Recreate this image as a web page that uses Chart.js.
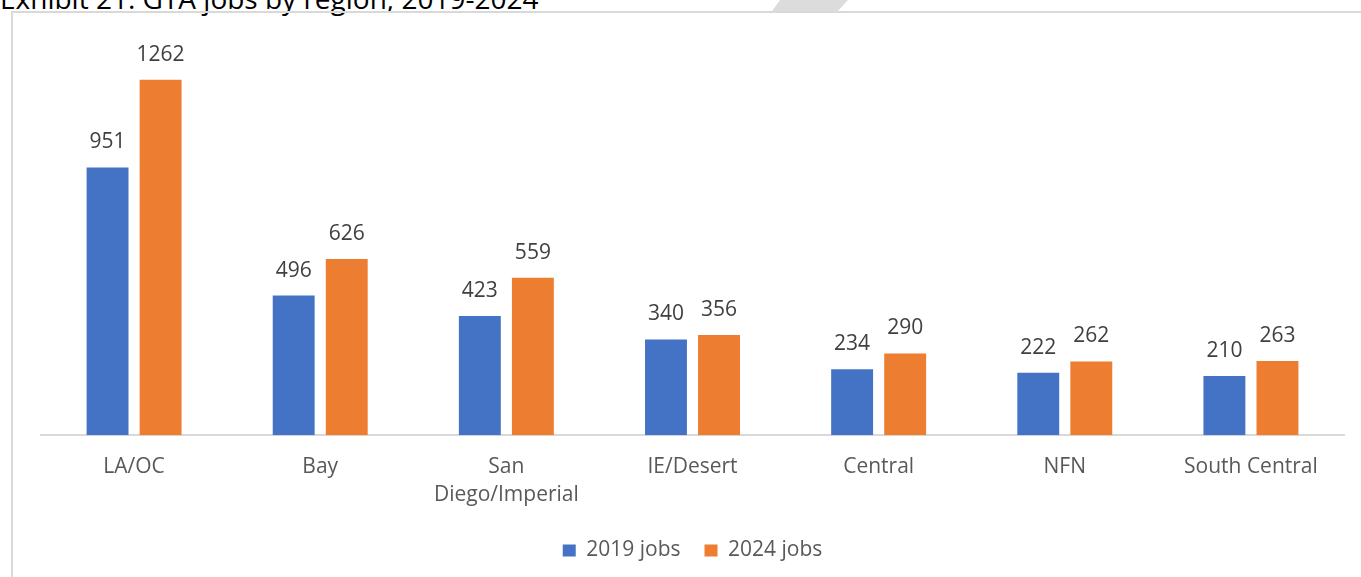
<!DOCTYPE html>
<html>
<head>
<meta charset="utf-8">
<script src="https://cdn.jsdelivr.net/npm/chart.js@4/dist/chart.umd.min.js"></script>
<style>
  html, body { margin: 0; padding: 0; background: #fff; overflow: hidden; }
  body { width: 1361px; height: 577px; position: relative; }
  #title {
    position: absolute; left: 0; top: -21px; margin: 0; line-height: 1;
    font: 28px "Open Sans", sans-serif; color: #000; white-space: nowrap;
  }
  #tab {
    position: absolute; left: 772px; top: 0; width: 76px; height: 11px;
    background: #dcdcdc; clip-path: polygon(8px 0, 76px 0, 66px 100%, 0 100%);
  }
  #frame {
    position: absolute; left: 11px; top: 11px; width: 1400px; height: 620px;
    border: 2px solid #d9d9d9; box-sizing: border-box;
  }
  #wrap { position: absolute; left: 0; top: 0; width: 1361px; height: 577px; }
</style>
</head>
<body>
<div id="title">Exhibit 21: GTA jobs by region, 2019-2024</div>
<div id="tab"></div>
<div id="frame"></div>
<div id="wrap"><canvas id="c" width="1361" height="577"></canvas></div>
<script>
const regions = ["LA/OC", "Bay", ["San", "Diego/Imperial"], "IE/Desert", "Central", "NFN", "South Central"];
const jobs2019 = [951, 496, 423, 340, 234, 222, 210];
const jobs2024 = [1262, 626, 559, 356, 290, 262, 263];

const FONT = "'Open Sans', sans-serif";

// Value labels above each bar
const valueLabels = {
  id: "valueLabels",
  afterDatasetsDraw(chart) {
    const ctx = chart.ctx;
    ctx.save();
    ctx.font = "21px " + FONT;
    ctx.fillStyle = "#404040";
    ctx.textAlign = "center";
    ctx.textBaseline = "alphabetic";
    chart.data.datasets.forEach((ds, i) => {
      chart.getDatasetMeta(i).data.forEach((bar, j) => {
        ctx.fillText(String(ds.data[j]), bar.x, bar.y - 19);
      });
    });
    ctx.restore();
  }
};

new Chart(document.getElementById("c"), {
  type: "bar",
  data: {
    labels: regions,
    datasets: [
      { label: "2019 jobs", data: jobs2019, backgroundColor: "#4472c4" },
      { label: "2024 jobs", data: jobs2024, backgroundColor: "#ed7d31" }
    ]
  },
  options: {
    responsive: false,
    animation: false,
    devicePixelRatio: 1,
    layout: { padding: { left: 41, right: 17, top: 41, bottom: 6 } },
    datasets: { bar: { categoryPercentage: 0.57, barPercentage: 0.79 } },
    scales: {
      x: {
        grid: { display: false },
        border: { display: true, color: "#d9d9d9", width: 2 },
        ticks: {
          color: "#595959", font: { family: FONT, size: 21, lineHeight: 1.33 },
          maxRotation: 0, autoSkip: false, padding: 10
        },
        afterFit(scale) { scale.height -= 3; }
      },
      y: { display: false, min: 0, max: 1400 }
    },
    plugins: {
      legend: {
        position: "bottom",
        labels: {
          color: "#595959", font: { family: FONT, size: 21 },
          boxWidth: 13, boxHeight: 12, padding: 24
        }
      },
      tooltip: { enabled: false }
    }
  },
  plugins: [valueLabels]
});
</script>
</body>
</html>
